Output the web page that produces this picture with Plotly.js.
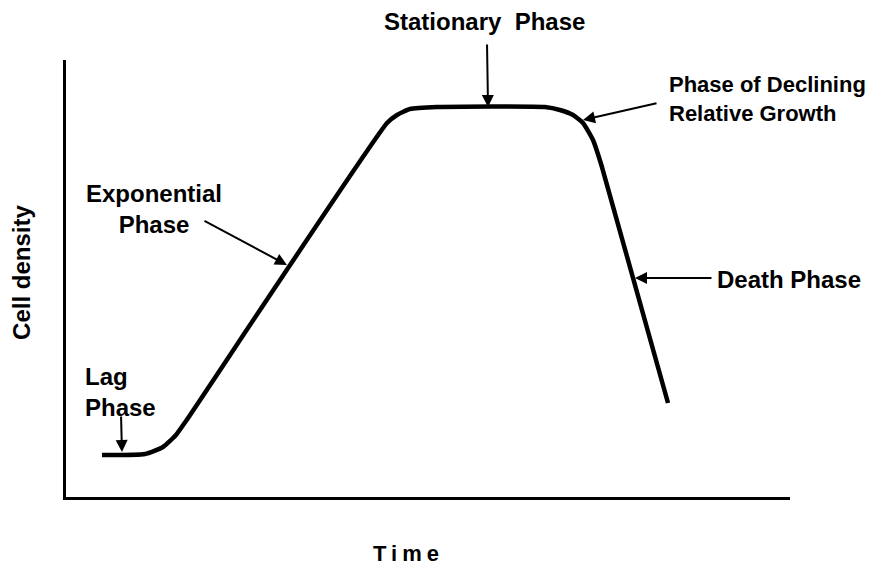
<!DOCTYPE html>
<html>
<head>
<meta charset="utf-8">
<script src="https://cdn.plot.ly/plotly-3.0.1.min.js"></script>
<style>
html,body{margin:0;padding:0;background:#fff;}
#chart{width:886px;height:569px;}
g.annotation[data-index="0"] text{letter-spacing:5px;}
</style>
</head>
<body>
<div id="chart"></div>
<script>
// Growth curve (time, cell density) in arbitrary units 0-100
const curveTime    = [4.97, 10.91, 13.40, 15.19, 16.57, 44.34, 45.72, 47.51, 51.24, 66.16, 68.23, 70.03, 71.41, 72.79, 74.03, 83.15];
const curveDensity = [9.61, 9.84, 11.44, 14.19, 17.39, 85.58, 87.41, 88.79, 89.24, 89.24, 88.56, 87.41, 85.58, 81.69, 75.51, 21.51];

// Phase labels (data coordinates)
const labelText   = ["Lag<br>Phase", "Exponential<br>Phase", "Phase of Declining<br>Relative Growth", "Death Phase"];
const labelX      = [2.35, 12.15, 83.01, 89.64];
const labelY      = [24.14, 65.90, 91.08, 49.66];
const labelAnchor = ["left", "center", "left", "left"];
const labelSize   = [24, 24, 22, 24];

// Label above the plot area (paper coordinates)
const topLabelText = "Stationary  Phase";
const topLabelX = 0.5787;
const topLabelY = 1.087;

// Pointer arrows: tail -> tip
const arrowTailX = [7.60, 18.92, 58.15, 81.77, 89.36];
const arrowTailY = [18.76, 63.39, 103.89, 90.16, 50.11];
const arrowTipX  = [7.73, 30.52, 58.29, 71.41, 78.59];
const arrowTipY  = [10.30, 53.09, 89.24, 86.27, 50.11];

const axisTitleX = "Time";
const axisTitleY = "Cell density";

const FONT = "Liberation Sans, Arial, sans-serif";

const annotations = [];
annotations.push({
  xref: "paper", yref: "paper", x: 0.4724, y: -0.1304,
  text: "<b>" + axisTitleX + "</b>", showarrow: false,
  xanchor: "center", yanchor: "middle",
  font: {family: FONT, size: 22, color: "#000"}
});
annotations.push({
  xref: "paper", yref: "paper", x: -0.0608, y: 0.515,
  text: "<b>" + axisTitleY + "</b>", showarrow: false, textangle: -90,
  xanchor: "center", yanchor: "middle",
  font: {family: FONT, size: 24, color: "#000"}
});
annotations.push({
  xref: "paper", yref: "paper", x: topLabelX, y: topLabelY,
  text: "<b>" + topLabelText + "</b>", showarrow: false,
  xanchor: "center", yanchor: "middle",
  font: {family: FONT, size: 24, color: "#000"}
});
for (let i = 0; i < labelText.length; i++) {
  annotations.push({
    xref: "x", yref: "y", x: labelX[i], y: labelY[i],
    text: "<b>" + labelText[i].replace("<br>", "</b><br><b>") + "</b>", showarrow: false,
    xanchor: labelAnchor[i], yanchor: "middle", align: labelAnchor[i],
    font: {family: FONT, size: labelSize[i], color: "#000"}
  });
}
for (let i = 0; i < arrowTipX.length; i++) {
  annotations.push({
    xref: "x", yref: "y", axref: "x", ayref: "y",
    x: arrowTipX[i], y: arrowTipY[i], ax: arrowTailX[i], ay: arrowTailY[i],
    text: "", showarrow: true, arrowhead: 2, arrowsize: 1.2, arrowwidth: 2,
    arrowcolor: "#000", standoff: 0, startstandoff: 0
  });
}

const trace = {
  x: curveTime, y: curveDensity, type: "scatter", mode: "lines",
  line: {color: "#000", width: 4.5, shape: "spline", smoothing: 0.5},
  hoverinfo: "skip", cliponaxis: false
};

const axisCommon = {
  range: [0, 100], showline: true, linewidth: 3, linecolor: "#000",
  showgrid: false, zeroline: false, showticklabels: false, ticks: "",
  fixedrange: true
};

const layout = {
  width: 886, height: 569,
  margin: {l: 66, r: 96, t: 60, b: 72, pad: 0},
  paper_bgcolor: "#fff", plot_bgcolor: "#fff",
  showlegend: false,
  xaxis: Object.assign({}, axisCommon),
  yaxis: Object.assign({}, axisCommon),
  annotations: annotations
};

Plotly.newPlot("chart", [trace], layout, {displayModeBar: false, staticPlot: true});
</script>
</body>
</html>
